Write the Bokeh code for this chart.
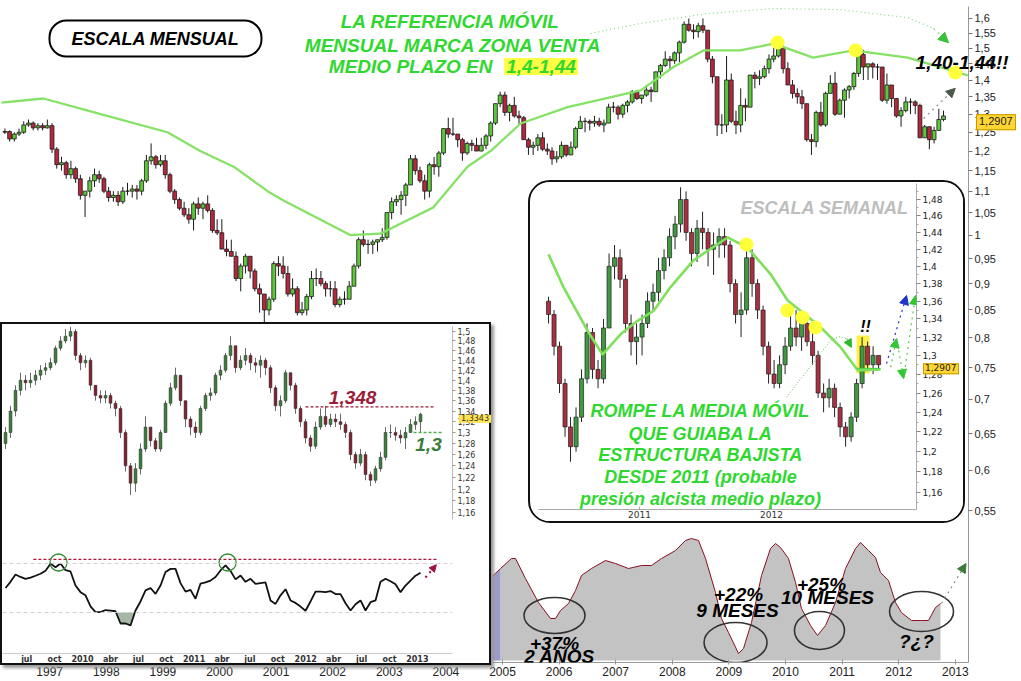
import numpy as np
from bokeh.plotting import figure
from bokeh.models import (Range1d, FixedTicker, Label, Arrow, NormalHead, Span, GridBox,
                          LinearScale, Div)
from bokeh.embed import file_html
from bokeh.resources import INLINE

FONT = "Liberation Sans"
AXFONT = "DejaVu Sans"

# ============================ DATA ============================
# --- main chart: monthly EUR/USD candles, Mar 1996 .. Oct 2012 ---
main_start = (1996, 3)
main_open0 = 1.25
main_close = [
    1.252, 1.232, 1.245, 1.25, 1.27, 1.275, 1.262, 1.268, 1.262, 1.268,
    1.205, 1.165, 1.17, 1.14, 1.155, 1.13, 1.09, 1.10, 1.125, 1.14, 1.13, 1.10,
    1.085, 1.09, 1.075, 1.10, 1.10, 1.105, 1.10, 1.125, 1.175, 1.185, 1.165, 1.175,
    1.14, 1.10, 1.08, 1.06, 1.045, 1.035, 1.07, 1.06, 1.07, 1.055, 1.01, 1.005,
    0.97, 0.965, 0.955, 0.91, 0.935, 0.955, 0.925, 0.89, 0.88, 0.85, 0.87, 0.94,
    0.935, 0.92, 0.88, 0.89, 0.845, 0.85, 0.875, 0.91, 0.91, 0.90, 0.89, 0.89,
    0.86, 0.87, 0.87, 0.895, 0.935, 0.99, 0.98, 0.98, 0.985, 0.99, 0.995, 1.05,
    1.075, 1.08, 1.09, 1.115, 1.18, 1.15, 1.125, 1.10, 1.165, 1.16, 1.195, 1.26,
    1.245, 1.245, 1.23, 1.195, 1.22, 1.215, 1.20, 1.215, 1.24, 1.275, 1.33, 1.355,
    1.305, 1.325, 1.295, 1.29, 1.23, 1.21, 1.215, 1.235, 1.205, 1.20, 1.18, 1.185,
    1.215, 1.19, 1.21, 1.26, 1.28, 1.28, 1.275, 1.28, 1.27, 1.275, 1.32, 1.32,
    1.30, 1.325, 1.335, 1.365, 1.345, 1.355, 1.37, 1.365, 1.425, 1.445, 1.465, 1.46,
    1.485, 1.52, 1.58, 1.56, 1.555, 1.575, 1.56, 1.465, 1.41, 1.27, 1.27, 1.40,
    1.28, 1.27, 1.325, 1.32, 1.415, 1.405, 1.41, 1.435, 1.465, 1.475, 1.50, 1.435,
    1.385, 1.36, 1.35, 1.33, 1.23, 1.225, 1.305, 1.27, 1.36, 1.39, 1.30, 1.34,
    1.37, 1.38, 1.42, 1.48, 1.44, 1.45, 1.44, 1.44, 1.34, 1.385, 1.345, 1.295,
    1.31, 1.335, 1.335, 1.325, 1.235, 1.265, 1.23, 1.255, 1.285, 1.295,
]
main_high = [
    1.26, 1.255, 1.25, 1.26, 1.28, 1.285, 1.28, 1.275, 1.275, 1.285,
    1.275, 1.21, 1.185, 1.175, 1.175, 1.16, 1.14, 1.10, 1.135, 1.155, 1.15, 1.135,
    1.11, 1.10, 1.10, 1.11, 1.12, 1.115, 1.115, 1.13, 1.19, 1.22, 1.19, 1.19,
    1.19, 1.145, 1.105, 1.085, 1.075, 1.06, 1.075, 1.085, 1.075, 1.09, 1.06, 1.035,
    1.035, 0.99, 0.99, 0.965, 0.94, 0.96, 0.955, 0.93, 0.90, 0.875, 0.875, 0.945,
    0.955, 0.955, 0.935, 0.91, 0.895, 0.865, 0.88, 0.925, 0.93, 0.925, 0.905, 0.905,
    0.905, 0.875, 0.885, 0.905, 0.94, 0.995, 1.01, 0.99, 0.99, 0.99, 1.015, 1.05,
    1.085, 1.09, 1.10, 1.12, 1.19, 1.19, 1.16, 1.14, 1.17, 1.185, 1.20, 1.26,
    1.29, 1.29, 1.245, 1.235, 1.225, 1.23, 1.235, 1.235, 1.245, 1.28, 1.33, 1.365,
    1.365, 1.33, 1.35, 1.31, 1.295, 1.235, 1.225, 1.245, 1.25, 1.22, 1.21, 1.20,
    1.225, 1.215, 1.225, 1.265, 1.295, 1.29, 1.285, 1.295, 1.29, 1.285, 1.33, 1.335,
    1.325, 1.33, 1.34, 1.37, 1.37, 1.355, 1.385, 1.38, 1.425, 1.45, 1.49, 1.475,
    1.49, 1.525, 1.59, 1.60, 1.58, 1.585, 1.60, 1.56, 1.475, 1.41, 1.30, 1.475,
    1.42, 1.31, 1.375, 1.345, 1.415, 1.425, 1.43, 1.445, 1.48, 1.51, 1.515, 1.51,
    1.455, 1.40, 1.375, 1.37, 1.33, 1.245, 1.31, 1.335, 1.365, 1.415, 1.425, 1.345,
    1.375, 1.385, 1.425, 1.485, 1.495, 1.45, 1.455, 1.45, 1.44, 1.42, 1.385, 1.345,
    1.32, 1.35, 1.345, 1.34, 1.33, 1.27, 1.265, 1.265, 1.315, 1.31,
]
main_low = [
    1.245, 1.225, 1.225, 1.24, 1.245, 1.265, 1.255, 1.255, 1.255, 1.26,
    1.195, 1.155, 1.15, 1.13, 1.13, 1.12, 1.08, 1.04, 1.085, 1.11, 1.12, 1.095,
    1.075, 1.075, 1.065, 1.07, 1.09, 1.085, 1.08, 1.09, 1.12, 1.165, 1.155, 1.16,
    1.13, 1.095, 1.07, 1.055, 1.04, 1.025, 1.01, 1.045, 1.035, 1.05, 1.005, 1.0,
    0.97, 0.955, 0.955, 0.905, 0.885, 0.92, 0.91, 0.885, 0.845, 0.825, 0.84, 0.865,
    0.915, 0.91, 0.875, 0.875, 0.84, 0.84, 0.84, 0.87, 0.895, 0.895, 0.875, 0.875,
    0.855, 0.855, 0.86, 0.87, 0.895, 0.93, 0.975, 0.96, 0.96, 0.965, 0.985, 0.99,
    1.035, 1.065, 1.045, 1.065, 1.115, 1.14, 1.12, 1.08, 1.085, 1.14, 1.135, 1.19,
    1.235, 1.24, 1.21, 1.175, 1.19, 1.20, 1.20, 1.20, 1.205, 1.225, 1.27, 1.32,
    1.295, 1.28, 1.29, 1.27, 1.23, 1.19, 1.19, 1.20, 1.20, 1.19, 1.165, 1.17,
    1.18, 1.185, 1.19, 1.205, 1.26, 1.25, 1.255, 1.265, 1.265, 1.25, 1.275, 1.305,
    1.285, 1.29, 1.305, 1.33, 1.34, 1.33, 1.35, 1.335, 1.365, 1.405, 1.44, 1.43,
    1.45, 1.455, 1.515, 1.555, 1.53, 1.535, 1.55, 1.455, 1.39, 1.24, 1.245, 1.25,
    1.275, 1.245, 1.25, 1.28, 1.32, 1.375, 1.385, 1.405, 1.42, 1.455, 1.47, 1.42,
    1.385, 1.345, 1.33, 1.315, 1.225, 1.19, 1.21, 1.265, 1.265, 1.36, 1.295, 1.30,
    1.29, 1.345, 1.37, 1.41, 1.40, 1.40, 1.405, 1.40, 1.335, 1.33, 1.32, 1.29,
    1.265, 1.305, 1.30, 1.30, 1.235, 1.235, 1.205, 1.22, 1.255, 1.28,
]
# monthly moving average (read at points along the green curve)
main_ma_x = [1996.15, 1996.89, 1997.90, 1999.08, 1999.66, 2000.25, 2000.85, 2001.13,
             2002.31, 2002.84, 2003.78, 2004.38, 2004.79, 2005.32, 2006.15, 2007.44,
             2008.02, 2008.55, 2009.20, 2009.79, 2010.49, 2011.20, 2012.16, 2013.22]
main_ma_y = [1.333, 1.345, 1.30, 1.25, 1.20, 1.16, 1.10, 1.078,
             1.0, 1.003, 1.062, 1.16, 1.20, 1.274, 1.32, 1.369,
             1.44, 1.493, 1.493, 1.515, 1.47, 1.493, 1.47, 1.414]
main_price_ticks = [0.55, 0.6, 0.65, 0.7, 0.75, 0.8, 0.85, 0.9, 0.95, 1.0, 1.05, 1.1,
                    1.15, 1.2, 1.25, 1.3, 1.35, 1.4, 1.45, 1.5, 1.55, 1.6]
main_price_labels = ["0,55", "0,6", "0,65", "0,7", "0,75", "0,8", "0,85", "0,9", "0,95", "1",
                     "1,05", "1,1", "1,15", "1,2", "1,25", "1,3", "1,35", "1,4", "1,45",
                     "1,5", "1,55", "1,6"]
main_year_ticks = list(range(1997, 2014))
main_last_price = 1.2907
main_dots_x = [2009.86, 2011.24, 2013.0]
main_dots_y = [1.519, 1.493, 1.423]
main_arc_x = [2006.555, 2007.438, 2008.622, 2009.788, 2010.97, 2012.155, 2012.615]
main_arc_y = [1.549, 1.583, 1.617, 1.635, 1.631, 1.603, 1.566]

# --- lower oscillator (grey area), shares the monthly time axis ---
gray_x = [2004.79, 2004.965, 2005.159, 2005.23, 2005.406, 2005.636, 2005.848, 2005.936,
          2006.025, 2006.166, 2006.29, 2006.396, 2006.572, 2006.82, 2006.996, 2007.226,
          2007.456, 2007.633, 2007.809, 2008.057, 2008.233, 2008.339, 2008.463, 2008.587,
          2008.763, 2008.869, 2008.993, 2009.17, 2009.258, 2009.399, 2009.576, 2009.735,
          2009.823, 2009.912, 2010.053, 2010.177, 2010.283, 2010.442, 2010.565, 2010.707,
          2010.883, 2011.06, 2011.237, 2011.325, 2011.466, 2011.59, 2011.678, 2011.82,
          2011.943, 2012.049, 2012.226, 2012.403, 2012.527, 2012.65, 2012.739]
gray_v = [66, 73.6, 81.6, 81.6, 65.6, 46.4, 33.6, 33.6, 40, 45.6, 56, 68, 73.6, 80, 77.6,
          73.6, 76, 76, 81.6, 88, 96, 97.6, 96, 81.6, 54.4, 33.6, 22.4, 5.6, 9.6, 30.4,
          68, 89.6, 93.6, 90.4, 81.6, 62.4, 41.6, 28, 20, 28, 46.4, 73.6, 89.6, 94.4, 88,
          82.4, 70.4, 64, 46.4, 38.4, 32, 32, 32, 42.4, 45.6]
gray_highlight_end = 2004.965
cycle_x = [2005.919, 2009.117, 2010.60, 2012.403]
cycle_v = [36, 14.4, 24, 39.2]

# --- left inset: daily chart 2009-2013 (read every ~16 days) + oscillator ---
li_start, li_step = 2009.31, 0.0448
li_open0 = 1.28
li_close = [1.30, 1.34, 1.38, 1.40, 1.395, 1.40, 1.41, 1.42, 1.425, 1.435,
            1.465, 1.48, 1.49, 1.50, 1.45, 1.435, 1.44, 1.39, 1.37, 1.365,
            1.37, 1.355, 1.345, 1.30, 1.24, 1.21, 1.235, 1.27, 1.31, 1.285,
            1.27, 1.30, 1.355, 1.385, 1.41, 1.36, 1.325, 1.31, 1.30, 1.345,
            1.37, 1.375, 1.41, 1.42, 1.45, 1.47, 1.425, 1.44, 1.45, 1.435,
            1.43, 1.44, 1.425, 1.385, 1.35, 1.36, 1.415, 1.39, 1.345, 1.32,
            1.29, 1.275, 1.31, 1.33, 1.315, 1.325, 1.32, 1.315, 1.30, 1.26,
            1.245, 1.26, 1.225, 1.215, 1.235, 1.255, 1.30, 1.30, 1.295, 1.29,
            1.30, 1.315, 1.32, 1.334]
li_high = [1.31, 1.35, 1.39, 1.415, 1.41, 1.415, 1.42, 1.43, 1.435, 1.445,
           1.47, 1.49, 1.505, 1.51, 1.505, 1.455, 1.45, 1.445, 1.39, 1.38,
           1.38, 1.375, 1.36, 1.35, 1.305, 1.245, 1.245, 1.28, 1.33, 1.31,
           1.29, 1.305, 1.36, 1.395, 1.425, 1.41, 1.36, 1.33, 1.32, 1.35,
           1.375, 1.385, 1.415, 1.43, 1.455, 1.49, 1.47, 1.45, 1.465, 1.455,
           1.445, 1.45, 1.445, 1.43, 1.39, 1.37, 1.42, 1.415, 1.395, 1.35,
           1.325, 1.295, 1.32, 1.345, 1.35, 1.335, 1.335, 1.335, 1.32, 1.305,
           1.265, 1.27, 1.265, 1.23, 1.24, 1.265, 1.31, 1.315, 1.31, 1.305,
           1.31, 1.325, 1.33, 1.337]
li_low = [1.27, 1.29, 1.33, 1.37, 1.38, 1.385, 1.39, 1.40, 1.41, 1.42,
          1.43, 1.46, 1.475, 1.48, 1.44, 1.42, 1.425, 1.38, 1.36, 1.355,
          1.355, 1.345, 1.33, 1.29, 1.23, 1.19, 1.195, 1.225, 1.265, 1.275,
          1.265, 1.265, 1.30, 1.35, 1.38, 1.35, 1.31, 1.295, 1.29, 1.295,
          1.34, 1.36, 1.37, 1.40, 1.415, 1.44, 1.415, 1.42, 1.43, 1.42,
          1.415, 1.405, 1.41, 1.375, 1.34, 1.33, 1.355, 1.38, 1.335, 1.31,
          1.28, 1.265, 1.27, 1.305, 1.31, 1.31, 1.31, 1.305, 1.29, 1.25,
          1.235, 1.24, 1.215, 1.205, 1.21, 1.23, 1.25, 1.29, 1.285, 1.28,
          1.27, 1.30, 1.305, 1.30]
li_osc = [50, 55, 61, 59, 57.5, 58.5, 60, 61.6, 64, 69.7,
          67, 70, 64.5, 63.5, 52, 46.6, 44, 35, 30.3, 30.3,
          32, 31.5, 31, 21, 21, 19.4, 31.6, 39, 48, 50,
          45.2, 52, 63, 65.6, 65.6, 54, 47, 48.5, 41.2, 53.6,
          54.5, 56, 59, 64.3, 68.4, 64, 57, 60.2, 55, 57.5,
          53.4, 54, 54.5, 39.8, 37, 44, 49, 39.8, 37.8, 34.8,
          31.4, 39, 47, 47, 46.6, 47.5, 45, 45, 37.5, 31.6,
          36.7, 39.8, 31.6, 38.4, 39.8, 55, 57.5, 55.5, 53, 46.6,
          52, 56, 60, 62.5]
li_osc_high, li_osc_low, li_osc_top = 70, 30, 73.3
li_osc_peaks_x = [2009.785, 2011.30]
li_osc_peaks_v = [70.8, 70.8]
li_price_ticks = [1.16, 1.18, 1.2, 1.22, 1.24, 1.26, 1.28, 1.3, 1.32, 1.34, 1.36, 1.38,
                  1.4, 1.42, 1.44, 1.46, 1.48, 1.5]
li_price_labels = ["1,16", "1,18", "1,2", "1,22", "1,24", "1,26", "1,28", "1,3", "1,32",
                   "1,34", "1,36", "1,38", "1,4", "1,42", "1,44", "1,46", "1,48", "1,5"]
li_date_ticks = [2009.5, 2009.75, 2010.0, 2010.25, 2010.5, 2010.75, 2011.0, 2011.25,
                 2011.5, 2011.75, 2012.0, 2012.25, 2012.5, 2012.75, 2013.0]
li_date_labels = ["jul", "oct", "2010", "abr", "jul", "oct", "2011", "abr", "jul", "oct",
                  "2012", "abr", "jul", "oct", "2013"]
li_resistance, li_support, li_last = 1.348, 1.30, 1.3343

# --- right inset: weekly chart (read every half month) ---
ri_start, ri_step = 2010.311, 1.0 / 24
ri_open0 = 1.36
ri_close = [1.345, 1.31, 1.27, 1.225, 1.205, 1.235, 1.275, 1.325, 1.285, 1.275,
            1.33, 1.40, 1.41, 1.385, 1.335, 1.315, 1.32, 1.335, 1.36, 1.37,
            1.395, 1.41, 1.435, 1.45, 1.48, 1.44, 1.415, 1.445, 1.44, 1.42,
            1.425, 1.435, 1.425, 1.38, 1.345, 1.35, 1.41, 1.38, 1.35, 1.31,
            1.28, 1.27, 1.29, 1.31, 1.33, 1.32, 1.335, 1.315, 1.30, 1.26,
            1.255, 1.265, 1.245, 1.225, 1.215, 1.235, 1.27, 1.31, 1.29, 1.30, 1.29]
ri_high = [1.365, 1.35, 1.315, 1.275, 1.235, 1.245, 1.285, 1.335, 1.33, 1.295,
           1.34, 1.415, 1.425, 1.42, 1.39, 1.345, 1.335, 1.345, 1.37, 1.38,
           1.41, 1.42, 1.445, 1.46, 1.495, 1.49, 1.445, 1.455, 1.465, 1.445,
           1.44, 1.445, 1.445, 1.43, 1.385, 1.37, 1.42, 1.42, 1.385, 1.355,
           1.315, 1.295, 1.30, 1.32, 1.345, 1.35, 1.34, 1.345, 1.325, 1.305,
           1.27, 1.275, 1.27, 1.25, 1.23, 1.24, 1.275, 1.32, 1.315, 1.31, 1.30]
ri_low = [1.335, 1.30, 1.26, 1.215, 1.19, 1.20, 1.23, 1.27, 1.275, 1.265,
          1.27, 1.33, 1.385, 1.375, 1.325, 1.30, 1.29, 1.30, 1.33, 1.35,
          1.36, 1.385, 1.40, 1.42, 1.44, 1.43, 1.40, 1.405, 1.42, 1.40,
          1.39, 1.41, 1.41, 1.37, 1.335, 1.32, 1.345, 1.365, 1.34, 1.30,
          1.27, 1.265, 1.265, 1.28, 1.305, 1.31, 1.305, 1.31, 1.29, 1.255,
          1.24, 1.245, 1.235, 1.215, 1.205, 1.21, 1.23, 1.265, 1.285, 1.28, 1.285]
ri_ma_x = [2010.311, 2010.424, 2010.606, 2010.72, 2010.856, 2010.985, 2011.106, 2011.235,
           2011.409, 2011.667, 2011.818, 2011.992, 2012.121, 2012.371, 2012.523, 2012.652,
           2012.826]
ri_ma_y = [1.414, 1.376, 1.327, 1.301, 1.323, 1.338, 1.349, 1.376,
           1.407, 1.434, 1.422, 1.391, 1.361, 1.331, 1.309, 1.284, 1.285]
ri_dots_x = [2011.81, 2012.12, 2012.235, 2012.333]
ri_dots_y = [1.4257, 1.3496, 1.3418, 1.3306]
ri_price_ticks = [1.14, 1.16, 1.18, 1.2, 1.22, 1.24, 1.26, 1.28, 1.3, 1.32, 1.34, 1.36,
                  1.38, 1.4, 1.42, 1.44, 1.46, 1.48]
ri_price_labels = ["1,14", "1,16", "1,18", "1,2", "1,22", "1,24", "1,26", "1,28", "1,3",
                   "1,32", "1,34", "1,36", "1,38", "1,4", "1,42", "1,44", "1,46", "1,48"]
ri_year_ticks = [2011, 2012]
ri_break_box = (2012.644, 2012.742, 1.2807, 1.3218)
ri_base_level = 1.2861

# ============================ GEOMETRY ============================
W, H = 1010, 680
MX0, MX1, MY0, MY1 = 1996.131, 2013.233, 0.3955, 1.6422          # main frame 0..968 x 6..662
M_FRAME = (0, 968, 6, 662)
LX0, LX1, LY0, LY1 = 2009.283, 2013.315, 0.9506, 1.5106          # left inset
L_FRAME = (2, 452, 326, 653)
RX0, RX1, RY0, RY1 = 2010.235, 2013.098, 1.1437, 1.4998          # right inset
R_FRAME = (538, 916, 183, 509)


def to_px(x, p, xr, yr, frame):
    fx0, fx1, fy0, fy1 = frame
    px = fx0 + (x - xr[0]) / (xr[1] - xr[0]) * (fx1 - fx0)
    py = fy0 + (np.log(yr[1]) - np.log(p)) / (np.log(yr[1]) - np.log(yr[0])) * (fy1 - fy0)
    return float(px), float(py)


# ============================ HELPERS ============================
def candles(p, x, o, h, l, c, width, up, down, outline, wick, lw=0.8, wick_w=1.0):
    x = np.asarray(x, float); o = np.asarray(o, float); c = np.asarray(c, float)
    h = np.maximum(np.asarray(h, float), np.maximum(o, c))
    l = np.minimum(np.asarray(l, float), np.minimum(o, c))
    p.segment(x0=x, y0=l, x1=x, y1=h, line_color=wick, line_width=wick_w)
    inc = c >= o
    p.vbar(x=x[inc], width=width, bottom=o[inc], top=c[inc], fill_color=up,
           line_color=outline, line_width=lw)
    p.vbar(x=x[~inc], width=width, bottom=c[~inc], top=o[~inc], fill_color=down,
           line_color=outline, line_width=lw)


def opens(first, close):
    return [first] + list(close[:-1])


def txt(p, x, y, s, size, color="black", style="bold italic", align="center", **kw):
    lab = Label(x=x, y=y, text=s, text_font=FONT, text_font_size=f"{size}px",
                text_font_style=style, text_color=color, text_align=align,
                text_baseline="middle", **kw)
    p.add_layout(lab)
    return lab


def arrow(p, x0, y0, x1, y1, color, head_color=None, dash="dotted", width=1.2, size=8, **kw):
    hc = head_color or color
    p.add_layout(Arrow(end=NormalHead(size=size, fill_color=hc, line_color=hc),
                       x_start=x0, y_start=y0, x_end=x1, y_end=y1,
                       line_color=color, line_dash=dash, line_width=width, **kw))


def html_text(x, y, s, size, color="black", bold=True, italic=True, align="center", extra=""):
    tx = {"center": "-50%", "left": "0", "right": "-100%"}[align]
    return (f'<div style="position:absolute;left:{x:.1f}px;top:{y:.1f}px;'
            f'transform:translate({tx},-50%);font-family:\'{FONT}\';font-size:{size}px;'
            f'font-weight:{"bold" if bold else "normal"};'
            f'font-style:{"italic" if italic else "normal"};color:{color};'
            f'white-space:nowrap;line-height:1.05;{extra}">{s}</div>')


GREEN = "#2fd82f"

# ============================ MAIN FIGURE ============================
main = figure(width=W, height=H, x_range=Range1d(MX0, MX1), y_range=Range1d(MY0, MY1),
              y_axis_type="log", y_axis_location="right",
              output_backend="svg", toolbar_location=None,
              min_border_left=0, min_border_right=W - 968, min_border_top=6,
              min_border_bottom=H - 662,
              background_fill_color="white", border_fill_color="white", outline_line_color=None)
main.grid.visible = False
main.extra_y_ranges = {"osc": Range1d(-1.6, 523.2)}
main.extra_y_scales = {"osc": LinearScale()}

# grey cycle oscillator at the bottom
gx = np.asarray(gray_x); gv = np.asarray(gray_v)
hl = gx <= gray_highlight_end
keep = gx >= gray_highlight_end
main.varea(x=gx[keep], y1=0, y2=gv[keep], fill_color="#c3c3c3", y_range_name="osc")
main.varea(x=gx[hl], y1=0, y2=gv[hl], fill_color="#9c9ccc", y_range_name="osc")
main.line(gx, gv, line_color="#8a1020", line_width=1, y_range_name="osc")
main.ellipse(x=cycle_x, y=cycle_v, width=[61, 63, 50, 64], height=[36, 40, 38, 40],
             width_units="screen", height_units="screen", fill_color=None,
             line_color="#333333", line_width=1.6, y_range_name="osc")
for s, x, y in [("+37%", 2005.919, 13.6), ("2 AÑOS", 2006.007, 3.6), ("+22%", 2009.17, 52.5),
                ("9 MESES", 2009.152, 40), ("+25%", 2010.636, 61), ("10 MESES", 2010.742, 50.4),
                ("?¿?", 2012.314, 15.2)]:
    txt(main, x, y, s, 19, y_range_name="osc")
arrow(main, 2012.756, 45.6, 2013.19, 77.6, "#789078", head_color="#3a7a3a", size=9,
      y_range_name="osc")

# monthly candles
mx = []
yy, mm = main_start
for _ in main_close:
    mx.append(yy + (mm - 0.5) / 12)
    mm += 1
    if mm > 12:
        mm, yy = 1, yy + 1
candles(main, mx, opens(main_open0, main_close), main_high, main_low, main_close, 0.068,
        "#5cc83a", "#b5283c", "#1a1a1a", "#1a1a1a")
main.line(main_ma_x, main_ma_y, line_color="#86e266", line_width=2.3)
main.line(main_arc_x, main_arc_y, line_color="#7ad67a", line_width=1.1, line_dash="1 3")
arrow(main, main_arc_x[-1], main_arc_y[-1], 2012.88, 1.518, "#7ad67a", head_color="#3ac03a",
      size=10)
main.scatter(main_dots_x, main_dots_y, size=14, fill_color="#ffff3a", line_color=None)
arrow(main, 2012.44, 1.288, 2013.0, 1.375, "#8a8a8a", head_color="#4a5a4a", size=9)

ya = main.yaxis[0]
ya.ticker = FixedTicker(ticks=main_price_ticks)
ya.major_label_overrides = {t: s for t, s in zip(main_price_ticks, main_price_labels)}
ya.major_label_text_font = FONT
ya.major_label_text_font_size = "11px"
ya.major_label_text_color = "#222222"
ya.axis_line_color = "#999999"
ya.major_tick_line_color = "#777777"
ya.major_tick_out = 4
ya.major_tick_in = 0
ya.minor_tick_out = 0
ya.major_label_standoff = 2
xa = main.xaxis[0]
xa.ticker = FixedTicker(ticks=main_year_ticks)
xa.major_label_overrides = {t: str(t) for t in main_year_ticks}
xa.major_label_text_font = FONT
xa.major_label_text_font_size = "12px"
xa.major_label_text_color = "#222222"
xa.axis_line_color = "#999999"
xa.major_tick_line_color = "#999999"
xa.major_tick_out = 2
xa.major_tick_in = 3
xa.minor_tick_out = 0
xa.major_label_standoff = 2

txt(main, 1998.869, 1.532, "ESCALA MENSUAL", 18, border_line_color="black",
    border_line_width=2, border_radius=17, padding=(22, 8), background_fill_color="white")
txt(main, 2004.081, 1.590, "LA REFERENCIA MÓVIL", 19, GREEN)
txt(main, 2004.134, 1.510, "MENSUAL MARCA ZONA VENTA", 19, GREEN)
txt(main, 2004.823, 1.442, "MEDIO PLAZO EN", 19, GREEN, align="right")
txt(main, 2005.03, 1.442, "1,4-1,44", 19, GREEN, align="left",
    background_fill_color="#ffff44", padding=2)

# ============================ LEFT INSET ============================
left = figure(width=491, height=343, x_range=Range1d(LX0, LX1), y_range=Range1d(LY0, LY1),
              y_axis_type="log", y_axis_location="right",
              output_backend="svg", toolbar_location=None,
              min_border_left=0, min_border_right=41, min_border_top=2, min_border_bottom=14,
              background_fill_color="white", border_fill_color="white", outline_line_color=None,
              styles={"border": "2px solid #111111", "box-shadow": "3px 3px 3px #9a9a9a",
                      "background": "white", "overflow": "hidden"})
left.grid.visible = False
left.extra_y_ranges = {"osc": Range1d(-3.5, 263.5)}
left.extra_y_scales = {"osc": LinearScale()}
lx = li_start + np.arange(len(li_close)) * li_step
lo = np.asarray(li_osc, float)
for lev in (li_osc_high, li_osc_low):
    left.add_layout(Span(location=lev, dimension="width", y_range_name="osc",
                         line_color="#cfcfcf", line_dash="4 3", line_width=1))
left.varea(x=lx, y1=np.minimum(lo, li_osc_low), y2=li_osc_low, fill_color="#a7b7a7",
           y_range_name="osc")
left.line([2009.56, 2013.18], [li_osc_top, li_osc_top], line_color="#b0143c",
          line_dash="3 2", line_width=1.2, y_range_name="osc")
left.line(lx, lo, line_color="#111111", line_width=1.8, y_range_name="osc")
left.scatter(li_osc_peaks_x, li_osc_peaks_v, size=17, fill_color=None, line_color="#2e8b2e",
             line_width=1.3, y_range_name="osc")
arrow(left, 2013.073, 58.6, 2013.17, 69, "#a0143c", width=2.2, size=7, y_range_name="osc")

candles(left, lx, opens(li_open0, li_close), li_high, li_low, li_close, 0.026,
        "#3a7d3a", "#7e2230", "#333333", "#444444", lw=0.5, wick_w=0.8)
left.line([2011.998, 2013.163], [li_resistance, li_resistance], line_color="#9b1b3a",
          line_dash="3 2", line_width=1.3)
left.line([2012.966, 2013.226], [li_support, li_support], line_color="#4caf50",
          line_dash="3 2", line_width=1.3)
txt(left, 2012.42, 1.366, "1,348", 19, "#9b1b3a")
txt(left, 2013.10, 1.278, "1,3", 19, "#3b7d3b")

la = left.yaxis[0]
la.ticker = FixedTicker(ticks=li_price_ticks)
la.major_label_overrides = {t: s for t, s in zip(li_price_ticks, li_price_labels)}
la.bounds = (1.15, 1.52)
la.major_label_text_font = AXFONT
la.major_label_text_font_size = "8px"
la.major_label_text_color = "#333333"
la.axis_line_color = "#bbbbbb"
la.major_tick_line_color = "#999999"
la.major_tick_out = 3
la.major_tick_in = 0
la.minor_tick_out = 0
la.major_label_standoff = 2
lb = left.xaxis[0]
lb.ticker = FixedTicker(ticks=li_date_ticks)
lb.major_label_overrides = {t: s for t, s in zip(li_date_ticks, li_date_labels)}
lb.major_label_text_font = AXFONT
lb.major_label_text_font_size = "8px"
lb.major_label_text_font_style = "bold"
lb.major_label_text_color = "#333333"
lb.axis_line_color = "#cccccc"
lb.major_tick_out = 0
lb.major_tick_in = 0
lb.minor_tick_out = 0
lb.major_label_standoff = 1

# ============================ RIGHT INSET ============================
right = figure(width=437, height=343, x_range=Range1d(RX0, RX1), y_range=Range1d(RY0, RY1),
               y_axis_type="log", y_axis_location="right",
               output_backend="svg", toolbar_location=None,
               min_border_left=8, min_border_right=51, min_border_top=1, min_border_bottom=16,
               background_fill_color="white", border_fill_color="white", outline_line_color=None,
               styles={"border": "2px solid #111111", "border-radius": "22px",
                       "overflow": "hidden", "background": "white"})
right.grid.visible = False
bx0, bx1, by0, by1 = ri_break_box
right.quad(left=[bx0], right=[bx1], bottom=[by0], top=[by1], fill_color="#ffee33",
           fill_alpha=0.9, line_color=None)
rx = ri_start + np.arange(len(ri_close)) * ri_step
candles(right, rx, opens(ri_open0, ri_close), ri_high, ri_low, ri_close, 0.031,
        "#3f9a3f", "#a83040", "#222222", "#222222", lw=0.7, wick_w=1.0)
right.line(ri_ma_x, ri_ma_y, line_color="#7fe05c", line_width=2.6)
right.line([bx0, 2012.826], [ri_base_level, ri_base_level], line_color="#4cd04c", line_width=1)
right.scatter(ri_dots_x, ri_dots_y, size=14, fill_color="#ffff3a", line_color=None)
right.line([2012.114, 2012.447, 2012.508, 2012.568], [1.2556, 1.3163, 1.3206, 1.3185],
           line_color="#5cc85c", line_dash="1 2", line_width=1)
arrow(right, 2012.568, 1.3185, 2012.606, 1.3086, "#5cc85c", head_color="#2fb82f", size=8)
arrow(right, 2012.871, 1.2912, 2013.023, 1.3665, "#2233cc", size=9)
arrow(right, 2012.902, 1.2874, 2012.947, 1.3184, "#5cc85c", head_color="#2fc82f", size=9)
arrow(right, 2012.947, 1.3184, 2013.0, 1.2751, "#5cc85c", head_color="#2fc82f", size=9)
arrow(right, 2013.0, 1.2751, 2013.09, 1.3665, "#5cc85c", head_color="#2fc82f", size=9)
txt(right, 2012.402, 1.469, "ESCALA SEMANAL", 18, "#bdbdbd")
txt(right, 2012.712, 1.3317, "!!", 16)
for s, y in [("ROMPE LA MEDIA MÓVIL", 1.2408), ("QUE GUIABA LA", 1.2183),
             ("ESTRUCTURA BAJISTA", 1.1963), ("DESDE 2011 (probable", 1.1747),
             ("presión alcista medio plazo)", 1.1533)]:
    txt(right, 2011.462, y, s, 18, GREEN)

ra = right.yaxis[0]
ra.ticker = FixedTicker(ticks=ri_price_ticks,
                        minor_ticks=[t + 0.01 for t in ri_price_ticks])
ra.major_label_overrides = {t: s for t, s in zip(ri_price_ticks, ri_price_labels)}
ra.major_label_text_font = AXFONT
ra.major_label_text_font_size = "9px"
ra.major_label_text_color = "#222222"
ra.axis_line_color = "#aaaaaa"
ra.major_tick_line_color = "#888888"
ra.minor_tick_line_color = "#aaaaaa"
ra.major_tick_out = 4
ra.major_tick_in = 0
ra.minor_tick_out = 2
ra.minor_tick_in = 0
ra.major_label_standoff = 2
rb = right.xaxis[0]
rb.ticker = FixedTicker(ticks=ri_year_ticks)
rb.major_label_overrides = {t: str(t) for t in ri_year_ticks}
rb.major_label_text_font = AXFONT
rb.major_label_text_font_size = "9px"
rb.major_label_text_color = "#333333"
rb.axis_line_color = "#aaaaaa"
rb.major_tick_line_color = "#aaaaaa"
rb.major_tick_out = 0
rb.major_tick_in = 3
rb.minor_tick_out = 0
rb.major_label_standoff = 1

# ============================ OVERLAY (texts that sit over the axes) ============================
items = []
px, py = to_px(2013.04, 1.467, (MX0, MX1), (MY0, MY1), M_FRAME)
items.append(html_text(px, py, "1,40-1,44!!", 19))
px, py = to_px(MX1, main_last_price, (MX0, MX1), (MY0, MY1), M_FRAME)
items.append(html_text(px + 3, py, "1,2907", 11, "#222", False, False, "left",
                       "background:#ffd633;border:1px solid #c89a00;padding:1px 2px;"))
px, py = to_px(LX1, li_last, (LX0, LX1), (LY0, LY1), L_FRAME)
items.append(html_text(px + 2, py, "1,3343", 8, "#333", False, False, "left",
                       "background:#ffe44d;padding:0 2px;font-family:'DejaVu Sans';"))
px, py = to_px(RX1, main_last_price, (RX0, RX1), (RY0, RY1), R_FRAME)
items.append(html_text(px + 2, py, "1,2907", 9, "#222", False, False, "left",
                       "background:#ffd633;border:1px solid #c89a00;padding:0 1px;"
                       "font-family:'DejaVu Sans';"))
over = Div(text=f'<div style="position:relative;width:{W}px;height:{H}px;">' + "".join(items)
           + "</div>", width=W, height=H, styles={"pointer-events": "none"})

# ============================ LAYOUT ============================
grid = GridBox(children=[(main, 0, 0, 5, 4), (left, 2, 0, 2, 1), (right, 1, 2, 2, 1),
                         (over, 0, 0, 5, 4)],
               rows=["180px", "142px", "201px", "142px", "15px"],
               cols=["491px", "37px", "437px", "45px"], spacing=0)

open("out.html", "w").write(file_html(grid, INLINE, "EUR/USD"))
